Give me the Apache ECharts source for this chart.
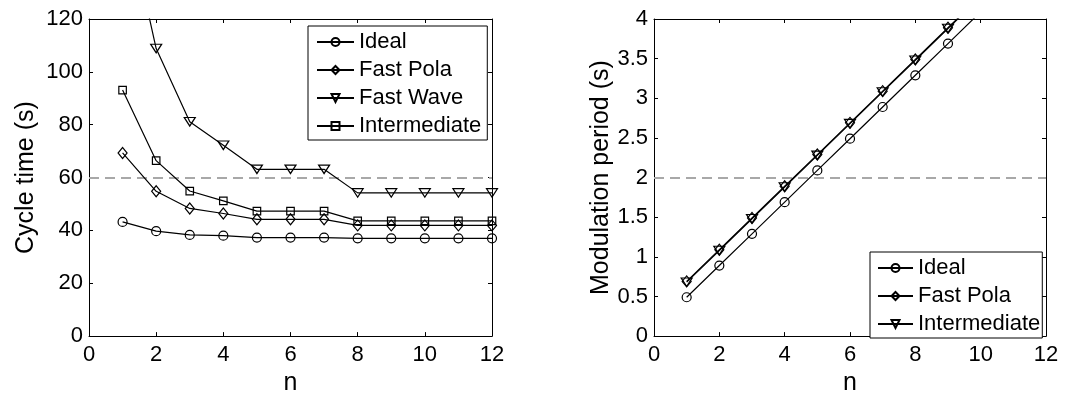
<!DOCTYPE html>
<html>
<head>
<meta charset="utf-8">
<script src="https://cdn.jsdelivr.net/npm/echarts@6/dist/echarts.min.js"></script>
<style>
  html, body { margin: 0; padding: 0; background: #fff; }
  #chart { width: 1084px; height: 401px; }
</style>
</head>
<body>
<div id="chart"></div>
<script>
// ---- data ----
const nValues = [1, 2, 3, 4, 5, 6, 7, 8, 9, 10, 11, 12];
const xTicks = [0, 2, 4, 6, 8, 10, 12];

// left: cycle time (s)
const ctIdeal        = [43.2, 39.7, 38.3, 38.0, 37.3, 37.3, 37.3, 37.0, 37.0, 37.0, 37.0, 37.0];
const ctFastPola     = [69.3, 54.8, 48.3, 46.4, 44.2, 44.2, 44.2, 41.9, 41.9, 41.9, 41.9, 41.9];
const ctFastWave     = [166, 108.8, 81.1, 72.2, 63.1, 63.1, 63.1, 54.2, 54.2, 54.2, 54.2, 54.2];
const ctIntermediate = [93.1, 66.4, 54.9, 51.2, 47.3, 47.3, 47.3, 43.6, 43.6, 43.6, 43.6, 43.6];
const ctTicks = [0, 20, 40, 60, 80, 100, 120];
const ctReference = 60;

// right: modulation period (s)
const mpN            = [1, 2, 3, 4, 5, 6, 7, 8, 9, 10];
const mpIdeal        = [0.49, 0.89, 1.29, 1.69, 2.09, 2.49, 2.89, 3.29, 3.69, 4.09];
const mpFastPola     = [0.69, 1.09, 1.49, 1.89, 2.29, 2.69, 3.09, 3.49, 3.89, 4.29];
const mpIntermediate = [0.68, 1.08, 1.48, 1.88, 2.28, 2.68, 3.08, 3.48, 3.88, 4.28];
const mpTicks = [0, 0.5, 1, 1.5, 2, 2.5, 3, 3.5, 4];
const mpReference = 2;

// ---- helpers ----
const FONT = 'Liberation Sans, Arial, Helvetica, sans-serif';
const pairs = (xs, ys) => xs.map((x, i) => [x, ys[i]]);

const SYM = {
  circle:   { symbol: 'circle', symbolSize: 9 },
  diamond:  { symbol: 'path://M5,0L10,6L5,12L0,6Z', symbolSize: [9, 11] },
  triangle: { symbol: 'path://M0,0L11,0L5.5,9Z', symbolSize: [11, 8.5] },
  square:   { symbol: 'rect', symbolSize: 7.5 }
};

function lineSeries(name, xi, yi, data, sym, refVal) {
  const s = {
    name: name,
    type: 'line',
    xAxisIndex: xi,
    yAxisIndex: yi,
    data: data,
    symbol: sym.symbol,
    symbolSize: sym.symbolSize,
    showAllSymbol: true,
    clip: true,
    color: '#000',
    lineStyle: { color: '#000', width: 1.2 },
    itemStyle: { color: 'rgba(0,0,0,0)', borderColor: '#000', borderWidth: 1.2 },
    emphasis: { disabled: true },
    z: 3
  };
  if (refVal !== undefined) {
    s.markLine = {
      silent: true,
      symbol: 'none',
      label: { show: false },
      lineStyle: { color: '#a8a8a8', type: [10, 6], width: 2 },
      data: [{ yAxis: refVal }],
      z: 2
    };
  }
  return s;
}

function axisCommon() {
  return {
    axisLine: { show: true, onZero: false, lineStyle: { color: '#000', width: 1 } },
    axisTick: { show: true, inside: true, length: 4, lineStyle: { color: '#000', width: 1 } },
    splitLine: { show: false },
    axisLabel: { show: true, color: '#000', fontSize: 22, fontFamily: FONT }
  };
}

function makeX(gi, pos, showLabel) {
  const a = axisCommon();
  return Object.assign(a, {
    type: 'value', gridIndex: gi, position: pos,
    min: xTicks[0], max: xTicks[xTicks.length - 1], interval: xTicks[1] - xTicks[0],
    axisLabel: Object.assign(a.axisLabel, { show: showLabel, margin: 8 }),
    name: showLabel ? 'n' : '',
    nameLocation: 'middle',
    nameGap: 31,
    nameTextStyle: { color: '#000', fontSize: 25, fontFamily: FONT }
  });
}

function makeY(gi, pos, ticks, showLabel, name, gap) {
  const a = axisCommon();
  return Object.assign(a, {
    type: 'value', gridIndex: gi, position: pos,
    min: ticks[0], max: ticks[ticks.length - 1], interval: ticks[1] - ticks[0],
    axisLabel: Object.assign(a.axisLabel, { show: showLabel, margin: 6 }),
    name: showLabel ? name : '',
    nameLocation: 'middle',
    nameGap: gap,
    nameTextStyle: { color: '#000', fontSize: 25, fontFamily: FONT }
  });
}

const legendCommon = {
  orient: 'vertical',
  show: true,
  backgroundColor: '#fff',
  borderColor: '#000',
  borderWidth: 1,
  borderRadius: 0,
  itemWidth: 37,
  itemHeight: 10,
  itemGap: 6,
  selectedMode: false,
  textStyle: { color: '#000', fontSize: 22, fontFamily: FONT, lineHeight: 22 },
  formatter: name => name.split('|')[0]
};

const option = {
  animation: false,
  backgroundColor: '#fff',
  grid: [
    { left: 89, top: 19, width: 403, height: 324 },
    { left: 654, top: 19, width: 392, height: 325 }
  ],
  xAxis: [
    makeX(0, 'bottom', true),
    makeX(0, 'top', false),
    makeX(1, 'bottom', true),
    makeX(1, 'top', false)
  ],
  yAxis: [
    makeY(0, 'left', ctTicks, true, 'Cycle time (s)', 50),
    makeY(0, 'right', ctTicks, false, '', 0),
    makeY(1, 'left', mpTicks, true, 'Modulation period (s)', 40),
    makeY(1, 'right', mpTicks, false, '', 0)
  ],
  legend: [
    Object.assign({}, legendCommon, {
      left: 308, top: 26, padding: [5, 6, 3, 8],
      data: ['Ideal|L', 'Fast Pola|L', 'Fast Wave|L', 'Intermediate|L']
    }),
    Object.assign({}, legendCommon, {
      left: 870, top: 252, padding: [5, 2, 3, 7], itemWidth: 35,
      data: ['Ideal|R', 'Fast Pola|R', 'Intermediate|R']
    })
  ],
  series: [
    lineSeries('Ideal|L', 0, 0, pairs(nValues, ctIdeal), SYM.circle, ctReference),
    lineSeries('Fast Pola|L', 0, 0, pairs(nValues, ctFastPola), SYM.diamond),
    lineSeries('Fast Wave|L', 0, 0, pairs(nValues, ctFastWave), SYM.triangle),
    lineSeries('Intermediate|L', 0, 0, pairs(nValues, ctIntermediate), SYM.square),
    lineSeries('Ideal|R', 2, 2, pairs(mpN, mpIdeal), SYM.circle, mpReference),
    lineSeries('Fast Pola|R', 2, 2, pairs(mpN, mpFastPola), SYM.diamond),
    lineSeries('Intermediate|R', 2, 2, pairs(mpN, mpIntermediate), SYM.triangle)
  ]
};

const chart = echarts.init(document.getElementById('chart'), null, { renderer: 'canvas' });
chart.setOption(option);
</script>
</body>
</html>
